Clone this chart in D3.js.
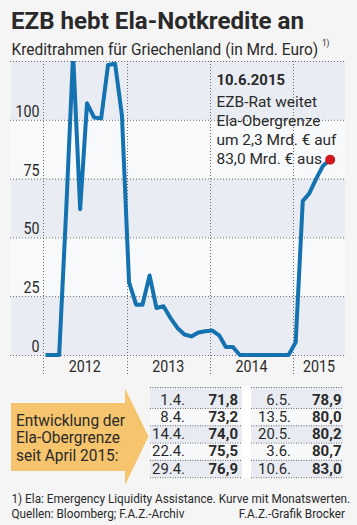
<!DOCTYPE html>
<html><head><meta charset="utf-8">
<script src="https://cdn.jsdelivr.net/npm/d3@7"></script>
<style>
html,body{margin:0;padding:0;background:#f5f5f5;}
svg{display:block;}
text{font-family:Roboto,"Noto Sans","DejaVu Sans",sans-serif;fill:#2a2a2a;}
</style></head><body><svg id="c" width="357" height="525"></svg>
<script>
// ---- data ----
const months = [
 "2012-01","2012-02","2012-03","2012-04","2012-05","2012-06","2012-07","2012-08","2012-09","2012-10","2012-11","2012-12",
 "2013-01","2013-02","2013-03","2013-04","2013-05","2013-06","2013-07","2013-08","2013-09","2013-10","2013-11","2013-12",
 "2014-01","2014-02","2014-03","2014-04","2014-05","2014-06","2014-07","2014-08","2014-09","2014-10","2014-11","2014-12",
 "2015-01","2015-02","2015-03","2015-04","2015-05","2015-06"];
const values = [
 0,0,0,62,128,62,107,101,100.6,123.3,123.8,101.7,
 31,21.4,21.4,33.8,20,20.7,15.8,11.5,8.7,7.9,9.6,10.1,
 10.4,8.2,3.4,3.4,0,0,0,0,0,0,0,0,
 5.4,65.5,68.6,75,80.5,83.0];
const yTicks = [0,25,50,75,100];
const yearLabels = ["2012","2013","2014","2015"];
const title = "EZB hebt Ela-Notkredite an";
const subtitle = "Kreditrahmen für Griechenland (in Mrd. Euro)";
const annotationTitle = "10.6.2015";
const annotationLines = ["EZB-Rat weitet","Ela-Obergrenze","um 2,3 Mrd. € auf","83,0 Mrd. € aus"];
const arrowLines = ["Entwicklung der","Ela-Obergrenze","seit April 2015:"];
const datesLeft = ["1.4.","8.4.","14.4.","22.4.","29.4."];
const valsLeft = ["71,8","73,2","74,0","75,5","76,9"];
const datesRight = ["6.5.","13.5.","20.5.","3.6.","10.6."];
const valsRight = ["78,9","80,0","80,2","80,7","83,0"];
const footnote1 = "1) Ela: Emergency Liquidity Assistance. Kurve mit Monatswerten.";
const footnote2 = "Quellen: Bloomberg; F.A.Z.-Archiv";
const credit = "F.A.Z.-Grafik Brocker";

// ---- layout ----
const svg = d3.select("#c");
const L = 11, R = 345, T = 61, B = 355;
const parse = d3.timeParse("%Y-%m");
const pts = months.map((m,i)=>{const d=parse(m); return {date:new Date(d.getFullYear(), d.getMonth(), 12), v:values[i]};});
const x = d3.scaleTime().domain([new Date(2011,7,14), new Date(2015,7,16)]).range([L,R]);
const y = d3.scaleLinear().domain([0,125]).range([B,T]);

// condensed-font emulation: horizontal squeeze factor from a calibration string
function factor(size, weight, cal, target){
  const t = svg.append("text").attr("font-size",size).attr("font-weight",weight).text(cal);
  const w = t.node().getComputedTextLength(); t.remove(); return target / w;
}
function squeeze(sel, f){
  sel.each(function(){ const w=this.getComputedTextLength(); d3.select(this).attr("textLength", w*f).attr("lengthAdjust","spacingAndGlyphs"); });
  return sel;
}
// squeezed text via a scaled group (anchor point stays at x,y)
function scaledText(px, py, f){
  return svg.append("g").attr("transform",`translate(${px},${py}) scale(${f},1)`).append("text").attr("x",0).attr("y",0);
}

// title
const fT = factor(23.5,"bold",title,293);
squeeze(svg.append("text").attr("x",11).attr("y",28.5).attr("font-size",23.5).attr("font-weight","bold").attr("fill","#1e1e1e").text(title), fT);
const fS = factor(17,"normal",subtitle,307);
scaledText(11.5,55,fS).attr("font-size",17).text(subtitle);
scaledText(322,46,fS).attr("font-size",9).text("1)");

// bands
const bandEdges = [0,25,50,75,100,125];
svg.append("g").selectAll("rect").data(d3.pairs(bandEdges)).join("rect")
  .attr("x",L).attr("width",R-L)
  .attr("y",d=>y(d[1])).attr("height",d=>y(d[0])-y(d[1]))
  .attr("fill",(d,i)=> i%2===0 ? "#e9edf3" : "#f8f9fb");

// horizontal grid
svg.append("g").selectAll("line").data(bandEdges).join("line")
  .attr("x1",L-1).attr("x2",R).attr("y1",d=>y(d)+0.5).attr("y2",d=>y(d)+0.5)
  .attr("stroke","#6a6a6a").attr("stroke-width",1).attr("stroke-dasharray","1,2");

// vertical grid at year starts
const yearStarts = yearLabels.map(s=>new Date(+s,0,1));
svg.append("g").selectAll("line").data(yearStarts).join("line")
  .attr("x1",d=>Math.round(x(d))+0.5).attr("x2",d=>Math.round(x(d))+0.5)
  .attr("y1",T).attr("y2",B+19)
  .attr("stroke","#6a6a6a").attr("stroke-width",1).attr("stroke-dasharray","1,2");

// y labels
const fA = factor(16,"normal","2012",32);
squeeze(svg.append("g").selectAll("text").data(yTicks).join("text")
  .attr("x",39.5).attr("y",d=>y(d)-3).attr("text-anchor","end").attr("font-size",16).attr("fill","#333")
  .text(d=>d), fA);

// year labels
squeeze(svg.append("g").selectAll("text").data(yearLabels).join("text")
  .attr("x",(d,i)=>{const a=x(new Date(+d,0,1)); const b=Math.min(R, x(new Date(+d+1,0,1))); return (a+b)/2;})
  .attr("y",372).attr("text-anchor","middle").attr("font-size",16).attr("fill","#333")
  .text(d=>d), fA);

// line
svg.append("clipPath").attr("id","clip").append("rect").attr("x",L).attr("y",T).attr("width",R-L).attr("height",B-T+10);
const line = d3.line().x(d=>x(d.date)).y(d=>y(d.v));
svg.append("path").datum(pts).attr("d",line).attr("clip-path","url(#clip)")
  .attr("fill","none").attr("stroke","#1472b0").attr("stroke-width",4).attr("stroke-linejoin","round");
const last = pts[pts.length-1];
svg.append("circle").attr("cx",x(last.date)).attr("cy",y(last.v)).attr("r",5).attr("fill","#d11a1f");

// annotation
const ax = 216.5;
const fN = factor(15.5,"normal","um 2,3 Mrd. € auf",120);
const fNB = factor(15.5,"bold",annotationTitle,68.5);
squeeze(svg.append("text").attr("x",ax).attr("y",85).attr("font-size",15.5).attr("font-weight","bold").attr("fill","#1e1e1e").text(annotationTitle), fNB);
squeeze(svg.append("g").selectAll("text").data(annotationLines).join("text")
  .attr("x",ax).attr("y",(d,i)=>106.5+i*19.2).attr("font-size",15.5).attr("fill","#2a2a2a").text(d=>d), fN);

// arrow
const arrow = d3.path();
arrow.moveTo(11,403); arrow.lineTo(125,403); arrow.lineTo(125,388.5); arrow.lineTo(148.5,436.5);
arrow.lineTo(125,485); arrow.lineTo(125,471); arrow.lineTo(11,471); arrow.closePath();
svg.append("path").attr("d",arrow.toString()).attr("fill","#f6c46c");
const fW = factor(16,"normal","Entwicklung der",109);
squeeze(svg.append("g").selectAll("text").data(arrowLines).join("text")
  .attr("x",16).attr("y",(d,i)=>426+i*17.4).attr("font-size",16).attr("fill","#333").text(d=>d), fW);

// table
const rowTop = 387, firstH = 21, rowH = 17.3;
const rowY = i => i===0 ? rowTop : rowTop+firstH+(i-1)*rowH;
const rowHt = i => i===0 ? firstH : rowH;
const blocks = [
  {x0:150, x1:242, dates:datesLeft, vals:valsLeft, dx:185, vx:238},
  {x0:251, x1:343, dates:datesRight, vals:valsRight, dx:291, vx:341.5}
];
const fD = factor(15.5,"normal","14.4.",33);
const fV = factor(15.5,"bold","71,8",29.5);
svg.append("rect").attr("x",242).attr("y",rowTop-1).attr("width",9).attr("height",rowY(4)+rowH-rowTop+2).attr("fill","#ffffff");
blocks.forEach(bk=>{
  const g = svg.append("g");
  g.selectAll("rect").data(bk.dates).join("rect")
    .attr("x",bk.x0).attr("width",bk.x1-bk.x0).attr("y",(d,i)=>rowY(i)).attr("height",(d,i)=>rowHt(i))
    .attr("fill",(d,i)=> i%2===0 ? "#e8ecf2" : "#f7f8fa");
  const seps = d3.range(6).map(i=> i===0 ? rowTop : rowY(i-1)+rowHt(i-1));
  g.selectAll("line").data(seps).join("line")
    .attr("x1",bk.x0).attr("x2",bk.x1).attr("y1",d=>d+0.5).attr("y2",d=>d+0.5)
    .attr("stroke","#6a6a6a").attr("stroke-dasharray","1,1.5");
  squeeze(g.selectAll("text.d").data(bk.dates).join("text").attr("class","d")
    .attr("x",bk.dx).attr("y",(d,i)=>rowY(i)+rowHt(i)-3.5).attr("text-anchor","end").attr("font-size",15.5).attr("fill","#333").text(d=>d), fD);
  squeeze(g.selectAll("text.v").data(bk.vals).join("text").attr("class","v")
    .attr("x",bk.vx).attr("y",(d,i)=>rowY(i)+rowHt(i)-3.5).attr("text-anchor","end").attr("font-size",15.5).attr("font-weight","bold").attr("fill","#1e1e1e").text(d=>d), fV);
});

// footnotes
const fF = factor(13,"normal",footnote1,339);
scaledText(11.5,503,fF).attr("font-size",13).attr("fill","#333").text(footnote1);
scaledText(11.5,517.5,fF).attr("font-size",13).attr("fill","#333").text(footnote2);
scaledText(345,517.5,fF).attr("font-size",13).attr("text-anchor","end").attr("fill","#333").text(credit);
</script></body></html>
